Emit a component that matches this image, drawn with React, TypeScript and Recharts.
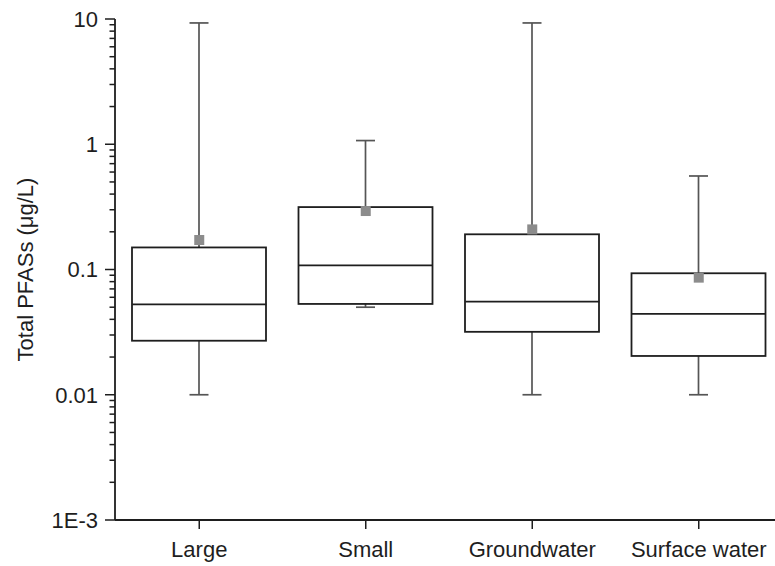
import React from 'react';
import { ComposedChart, Bar, Scatter, XAxis, YAxis } from 'recharts';

const categories = ['Large', 'Small', 'Groundwater', 'Surface water'];
const minValues = [0.01, 0.05, 0.01, 0.01];
const q1Values = [0.027, 0.0531, 0.0318, 0.0204];
const medianValues = [0.0527, 0.108, 0.0553, 0.0442];
const q3Values = [0.15, 0.315, 0.191, 0.0933];
const maxValues = [9.3, 1.07, 9.3, 0.558];
const meanValues = [0.172, 0.293, 0.209, 0.0861];

const majorTicks = [0.001, 0.01, 0.1, 1, 10];
const majorTickLabels = ['1E-3', '0.01', '0.1', '1', '10'];
const minorMultipliers = [2, 3, 4, 5, 6, 7, 8, 9];

const minorTicks: number[] = [];
majorTicks.slice(0, -1).forEach((m) => minorMultipliers.forEach((k) => minorTicks.push(m * k)));
const minorTickData = minorTicks.map((v) => ({ name: categories[0], minor: v }));

const data = categories.map((name, i) => ({
  name,
  whisker: [minValues[i], maxValues[i]],
  box: [q1Values[i], q3Values[i]],
  median: medianValues[i],
  mean: meanValues[i],
}));

const FONT = '"Liberation Sans", Arial, Helvetica, sans-serif';
const INK = '#1e1e1e';
const BOX_W = 134;
const Y_AXIS_W = 115;

const formatY = (v: number) => {
  const idx = majorTicks.findIndex((m) => Math.abs(m - v) / m < 1e-6);
  return idx >= 0 ? majorTickLabels[idx] : '';
};

const WhiskerShape = (props: any) => {
  const { x, y, width, height } = props;
  const cx = x + width / 2;
  const top = Math.min(y, y + height);
  const bottom = Math.max(y, y + height);
  return (
    <g>
      <line x1={cx} x2={cx} y1={top} y2={bottom} stroke="#555" strokeWidth={1.7} />
      <line x1={cx - 9.5} x2={cx + 9.5} y1={top} y2={top} stroke="#555" strokeWidth={1.7} />
      <line x1={cx - 9.5} x2={cx + 9.5} y1={bottom} y2={bottom} stroke="#555" strokeWidth={1.7} />
    </g>
  );
};

const BoxShape = (props: any) => {
  const { x, y, width, height } = props;
  const top = Math.min(y, y + height);
  const h = Math.abs(height);
  return <rect x={x} y={top} width={width} height={h} fill="#fff" stroke={INK} strokeWidth={1.8} />;
};

const MedianShape = (props: any) => {
  const { cx, cy } = props;
  return <line x1={cx - BOX_W / 2} x2={cx + BOX_W / 2} y1={cy} y2={cy} stroke={INK} strokeWidth={1.7} />;
};

const MeanShape = (props: any) => {
  const { cx, cy } = props;
  return <rect x={cx - 5} y={cy - 5} width={10} height={10} fill="#8c8c8c" />;
};

const MinorTickShape = (props: any) => {
  const { cy } = props;
  if (cy == null || isNaN(cy)) return <g />;
  return <line x1={Y_AXIS_W - 5.5} x2={Y_AXIS_W} y1={cy} y2={cy} stroke={INK} strokeWidth={1.5} />;
};

export default function App() {
  return (
    <div style={{ position: 'absolute', left: 0, top: 0, background: '#fff' }}>
      <ComposedChart
        width={775}
        height={566}
        data={data}
        margin={{ top: 19, right: 0, bottom: 0, left: 0 }}
        barGap={-BOX_W}
      >
        <XAxis
          dataKey="name"
          type="category"
          allowDuplicatedCategory={false}
          padding={{ left: 1, right: -7 }}
          height={46}
          tickSize={9}
          tickMargin={12}
          axisLine={{ stroke: INK, strokeWidth: 1.8 }}
          tickLine={{ stroke: INK, strokeWidth: 1.5 }}
          tick={{ fontSize: 22, fill: INK, fontFamily: FONT }}
          interval={0}
        />
        <YAxis
          scale="log"
          type="number"
          domain={[0.001, 10]}
          ticks={majorTicks}
          interval={0}
          width={Y_AXIS_W}
          tickSize={10}
          tickMargin={7}
          tickFormatter={formatY}
          tickLine={{ stroke: INK, strokeWidth: 1.5 }}
          axisLine={{ stroke: INK, strokeWidth: 1.8 }}
          tick={{ fontSize: 22, fill: INK, fontFamily: FONT }}
          label={{
            value: 'Total PFASs (μg/L)',
            angle: -90,
            position: 'insideLeft',
            offset: 25,
            style: { textAnchor: 'middle', fontSize: 22, fill: INK, fontFamily: FONT },
          }}
        />
        <Scatter data={minorTickData} dataKey="minor" shape={<MinorTickShape />} isAnimationActive={false} />
        <Bar dataKey="whisker" barSize={BOX_W} shape={<WhiskerShape />} isAnimationActive={false} />
        <Bar dataKey="box" barSize={BOX_W} shape={<BoxShape />} isAnimationActive={false} />
        <Scatter dataKey="median" shape={<MedianShape />} isAnimationActive={false} />
        <Scatter dataKey="mean" shape={<MeanShape />} isAnimationActive={false} />
      </ComposedChart>
    </div>
  );
}
